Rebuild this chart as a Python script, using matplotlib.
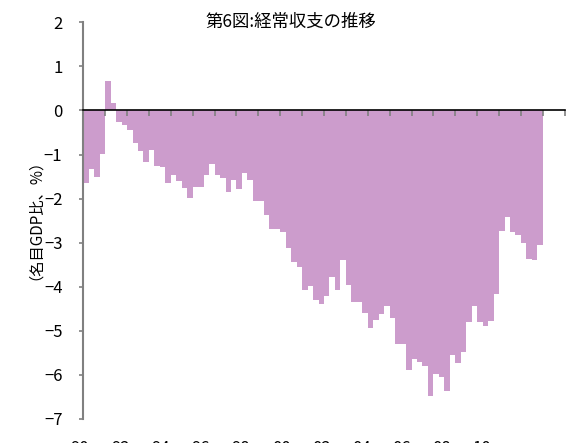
import numpy as np
import matplotlib
matplotlib.use("Agg")
import matplotlib.pyplot as plt
from matplotlib.transforms import blended_transform_factory

plt.rcParams["font.family"] = ["Noto Sans CJK JP", "DejaVu Sans"]
plt.rcParams["axes.unicode_minus"] = True

# Current account balance, % of nominal GDP, quarterly 1990Q1-2010Q4
balance = [
    -1.65, -1.33, -1.50, -0.98,   # 1990
     0.67,  0.18, -0.26, -0.34,   # 1991
    -0.44, -0.75, -0.93, -1.18,   # 1992
    -0.89, -1.25, -1.28, -1.65,   # 1993
    -1.46, -1.61, -1.76, -1.99,   # 1994
    -1.73, -1.73, -1.46, -1.21,   # 1995
    -1.46, -1.53, -1.84, -1.57,   # 1996
    -1.78, -1.41, -1.57, -2.05,   # 1997
    -2.05, -2.37, -2.68, -2.68,   # 1998
    -2.75, -3.11, -3.43, -3.55,   # 1999
    -4.07, -3.98, -4.29, -4.38,   # 2000
    -4.22, -3.79, -4.07, -3.39,   # 2001
    -3.95, -4.34, -4.34, -4.59,   # 2002
    -4.93, -4.75, -4.61, -4.43,   # 2003
    -4.70, -5.29, -5.29, -5.88,   # 2004
    -5.65, -5.71, -5.80, -6.47,   # 2005
    -5.99, -6.04, -6.36, -5.54,   # 2006
    -5.72, -5.49, -4.81, -4.43,   # 2007
    -4.81, -4.90, -4.77, -4.16,   # 2008
    -2.73, -2.41, -2.75, -2.82,   # 2009
    -3.00, -3.36, -3.39, -3.05,   # 2010
]
year_labels = ["90", "92", "94", "96", "98", "00", "02", "04", "06", "08", "10"]
yticks = np.arange(-7, 3, 1)

bar_color = "#cc9ccc"
axis_gray = "#808080"

fig = plt.figure(figsize=(5.66, 4.43), dpi=100)
ax = fig.add_axes([0.1472, 0.0542, 0.8505, 0.8955])

x = np.arange(len(balance))
ax.bar(x, balance, width=1.0, color=bar_color, linewidth=0)

ax.set_xlim(-0.5, 87.5)
ax.set_ylim(-7, 2)
ax.set_yticks(yticks)
ax.set_yticklabels([f"{v}".replace("-", "\u2212") for v in yticks])

# zero line doubles as the category axis, ticked once a year
ax.spines["bottom"].set_position(("data", 0))
ax.spines["bottom"].set_color("black")
ax.spines["bottom"].set_linewidth(1.2)
ax.spines["bottom"].set_zorder(3)
ax.spines["left"].set_color(axis_gray)
ax.spines["left"].set_linewidth(1.5)
ax.spines["top"].set_visible(False)
ax.spines["right"].set_visible(False)

ax.set_xticks(np.arange(-0.5, 88, 4))
ax.tick_params(axis="x", direction="out", length=4, width=1.2,
               color=axis_gray, labelbottom=False)
ax.tick_params(axis="y", direction="out", length=3, width=1.2,
               color=axis_gray, labelsize=12, pad=12)

# year labels sit on the bottom edge of the figure
trans = blended_transform_factory(ax.transData, fig.transFigure)
for i, lab in enumerate(year_labels):
    ax.text(-1.1 + 7.35 * i, 0.0075, lab, transform=trans,
            ha="center", va="top", fontsize=12, clip_on=False)

fig.text(291 / 566, 1 - 22 / 443, "第6図:経常収支の推移",
         ha="center", va="center", fontsize=12.5)
fig.text(27 / 566, 1 - 212 / 443, "（名目GDP比、%）", rotation=90,
         ha="center", va="center", fontsize=11)

fig.savefig("out.png", dpi=100)
